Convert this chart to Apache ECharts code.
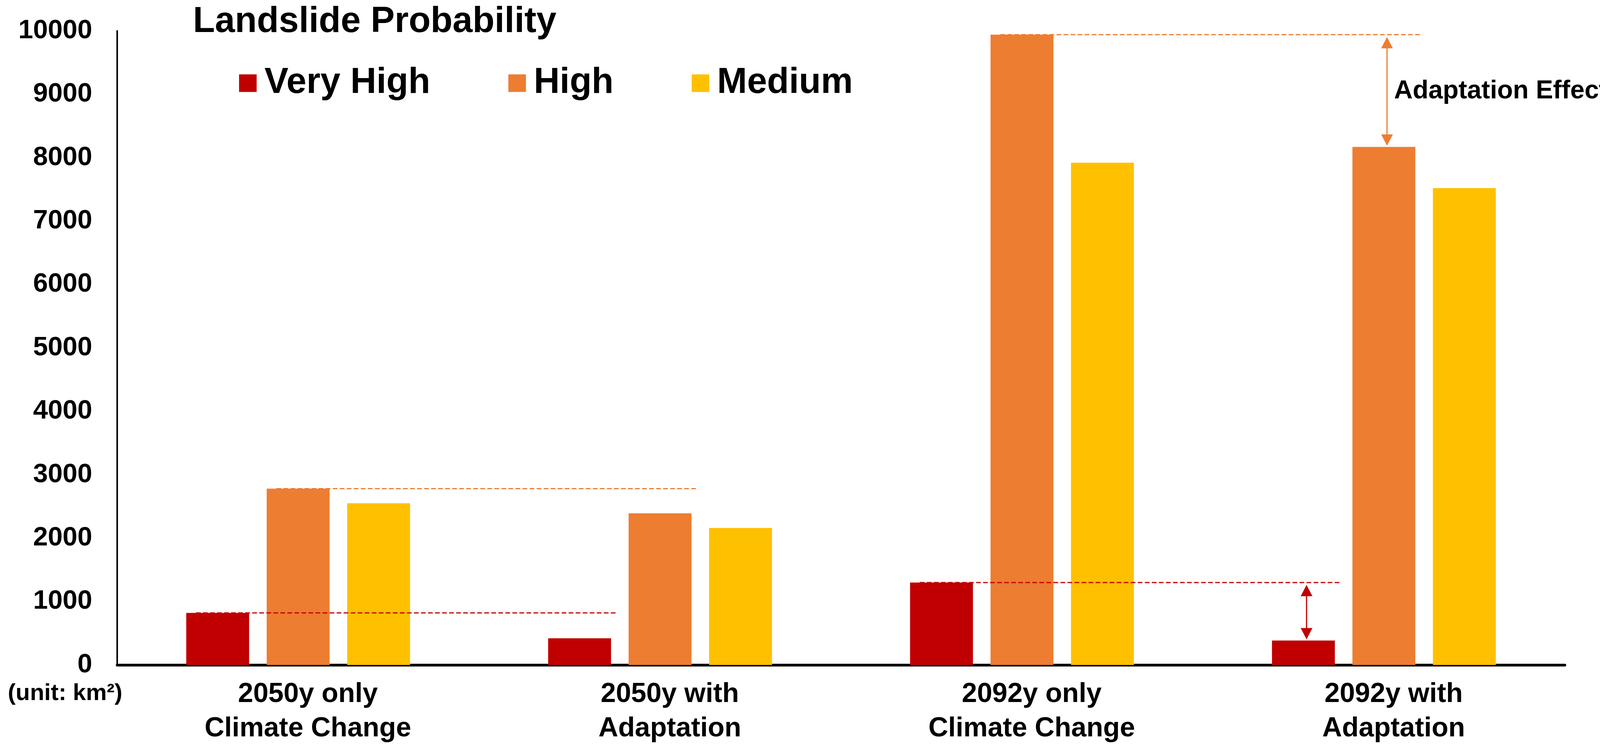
<!DOCTYPE html>
<html><head><meta charset="utf-8">
<script src="https://cdn.jsdelivr.net/npm/echarts@6/dist/echarts.min.js"></script>
<style>html,body{margin:0;padding:0;background:#fff}#c{width:4146px;height:1926px}</style>
</head><body><div id="c"></div>
<script>
// ---- data ----
const categories = ['2050y only\nClimate Change', '2050y with\nAdaptation', '2092y only\nClimate Change', '2092y with\nAdaptation'];
const seriesNames = ['Very High', 'High', 'Medium'];
const veryHigh = [820, 420, 1300, 385];
const high = [2780, 2390, 9940, 8170];
const medium = [2550, 2160, 7920, 7520];
const titleText = 'Landslide Probability';
const unitText = '(unit: km²)';
const effectText = 'Adaptation Effect';
// reference annotations: [fromCategory, toCategory, seriesIndex, drawArrow]
const refLines = [[0, 1, 0, 0], [0, 1, 1, 0], [2, 3, 0, 1], [2, 3, 1, 1]];

// ---- style ----
const FONT = '"Liberation Sans", Arial, sans-serif';
const colors = ['#C00000', '#ED7D31', '#FFC000'];
const BAR_W = 161, BAR_GAP = 45;
const valuesBySeries = [veryHigh, high, medium];
function barOffset(s) { return (s - 1) * (BAR_W + BAR_GAP); }

const chart = echarts.init(document.getElementById('c'), null, { renderer: 'canvas' });

function renderRef(params, api) {
  const from = api.value(0), to = api.value(1), s = api.value(2), arrow = api.value(3);
  const vals = valuesBySeries[s];
  const p0 = api.coord([from, vals[from]]);
  const p1 = api.coord([to, vals[from]]);
  const y = p0[1];
  const x0 = p0[0] + barOffset(s) - BAR_W / 2 + 25;
  const x1 = p1[0] + barOffset(s) + BAR_W / 2 + 14;
  const c = colors[s];
  const children = [{
    type: 'line', shape: { x1: x0, y1: y, x2: x1, y2: y },
    style: { stroke: c, lineWidth: 3, lineDash: [12, 6] }
  }];
  if (arrow) {
    const ax = p1[0] + barOffset(s) + 8;
    const yEnd = api.coord([to, vals[to]])[1];
    const top = y + 6, bot = yEnd - 3;
    const hl = 29, hw = 15;
    children.push({ type: 'line', shape: { x1: ax, y1: top + hl - 2, x2: ax, y2: bot - hl + 2 }, style: { stroke: c, lineWidth: 3 } });
    children.push({ type: 'polygon', shape: { points: [[ax, top], [ax - hw, top + hl], [ax + hw, top + hl]] }, style: { fill: c } });
    children.push({ type: 'polygon', shape: { points: [[ax, bot], [ax - hw, bot - hl], [ax + hw, bot - hl]] }, style: { fill: c } });
    if (s === 1) {
      children.push({
        type: 'text',
        style: { text: effectText, x: ax + 18, y: (top + bot) / 2, verticalAlign: 'middle', align: 'left',
          fontSize: 66, fontWeight: 'bold', fontFamily: FONT, fill: '#000' }
      });
    }
  }
  return { type: 'group', children };
}

const option = {
  backgroundColor: '#fff',
  animation: false,
  title: {
    text: titleText, left: 494, top: 11, padding: 0,
    textStyle: { fontSize: 92, fontWeight: 'bold', fontFamily: FONT, color: '#000' }
  },
  legend: {
    data: seriesNames, left: 612, top: 167, padding: 0,
    icon: 'rect', itemWidth: 45, itemHeight: 45, itemGap: 200,
    textStyle: { fontSize: 92, fontWeight: 'bold', fontFamily: FONT, color: '#000', padding: [0, 0, 0, 15] }
  },
  grid: { left: 300, right: 140, top: 79, bottom: 223, containLabel: false },
  xAxis: {
    type: 'category', data: categories,
    axisLine: { show: true, lineStyle: { color: '#000', width: 7 } },
    axisTick: { show: false },
    axisLabel: {
      interval: 0, fontSize: 70, fontWeight: 'bold', fontFamily: FONT, color: '#000',
      lineHeight: 88, margin: 32, padding: [0, 0, 0, 50]
    }
  },
  yAxis: {
    type: 'value', min: 0, max: 10000, interval: 1000,
    axisLine: { show: true, lineStyle: { color: '#000', width: 4 } },
    axisTick: { show: false },
    splitLine: { show: false },
    axisLabel: { fontSize: 68, fontWeight: 'bold', fontFamily: FONT, color: '#000', margin: 64,
      formatter: function (v) { return String(v); } }
  },
  series: [
    { name: seriesNames[0], type: 'bar', data: veryHigh, barWidth: BAR_W, barGap: (BAR_GAP / BAR_W * 100) + '%', itemStyle: { color: colors[0] } },
    { name: seriesNames[1], type: 'bar', data: high, barWidth: BAR_W, barGap: (BAR_GAP / BAR_W * 100) + '%', itemStyle: { color: colors[1] } },
    { name: seriesNames[2], type: 'bar', data: medium, barWidth: BAR_W, barGap: (BAR_GAP / BAR_W * 100) + '%', itemStyle: { color: colors[2] } },
    { type: 'custom', name: 'ref', renderItem: renderRef, data: refLines, encode: { x: 0, y: 1 }, z: 10, silent: true, clip: false }
  ],
  graphic: [{
    type: 'text', left: 20, top: 1746,
    style: { text: unitText, fontSize: 60, fontWeight: 'bold', fontFamily: FONT, fill: '#000' }
  }]
};
chart.setOption(option);
</script>
</body></html>
